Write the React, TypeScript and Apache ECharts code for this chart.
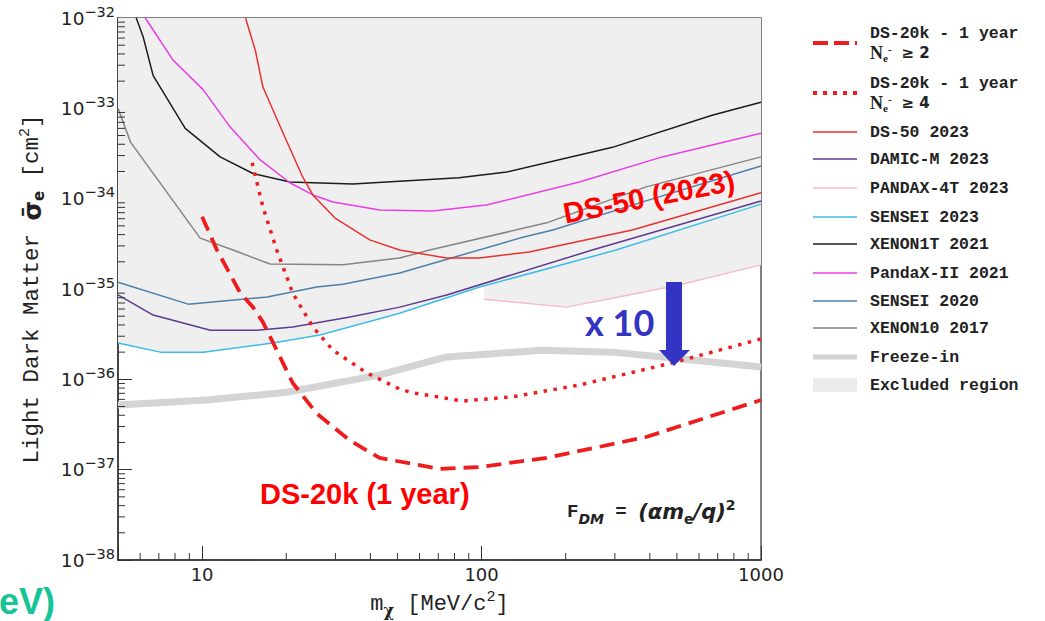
import React, { useEffect, useRef } from 'react';
import * as echarts from 'echarts';

// ---------- data (mass in MeV/c^2, cross-section in cm^2) ----------
const xTickLabels = ['10', '100', '1000'];
const yTickExponents = [-38, -37, -36, -35, -34, -33, -32];

const ds20kNe2: number[][] = [
  [10, 6.3e-35], [11.3, 2.7e-35], [13.7, 9.0e-36], [15.2, 6.3e-36], [16.5, 4.3e-36], [18.5, 2.1e-36],
  [21.1, 9.1e-37], [25.7, 4.2e-37], [33.8, 2.1e-37], [43.2, 1.35e-37], [70.8, 1.02e-37],
  [98.4, 1.07e-37], [171, 1.35e-37], [388, 2.3e-37], [1000, 5.9e-37],
];
const ds20kNe4: number[][] = [
  [15.1, 2.5e-34], [16.5, 8.1e-35], [18.5, 2.7e-35], [21.1, 9.0e-36], [24.9, 3.8e-36], [29.4, 2.1e-36],
  [38.8, 1.18e-36], [50.9, 7.8e-37], [56.8, 7.1e-37], [85.5, 5.75e-37], [129, 6.4e-37],
  [224, 8.65e-37], [481, 1.52e-36], [1000, 2.8e-36],
];
const ds50_2023: number[][] = [
  [14.3, 1e-32], [15.5, 4.4e-33], [16.5, 1.72e-33], [19.5, 5.3e-34], [22.9, 1.74e-34], [24.9, 1.1e-34],
  [29.9, 6.1e-35], [39.8, 3.5e-35], [50.9, 2.7e-35], [75, 2.2e-35], [98, 2.2e-35], [148, 2.57e-35],
  [346, 4.5e-35], [1000, 1.16e-34],
];
const damicM2023: number[][] = [
  [5, 8.6e-36], [6.68, 5.15e-36], [10.7, 3.5e-36], [15.7, 3.5e-36], [21.1, 3.8e-36], [33.8, 4.9e-36],
  [50.9, 6.3e-36], [75, 8.6e-36], [249, 2.7e-35], [1000, 9.4e-35],
];
const pandax4t2023: number[][] = [
  [102, 7.7e-36], [201, 6.3e-36], [294, 7.9e-36], [509, 1.11e-35], [1000, 1.85e-35],
];
const sensei2023: number[][] = [
  [5, 2.52e-36], [7.08, 2.0e-36], [10.1, 2.0e-36], [17.9, 2.52e-36], [26.4, 3.1e-36], [50.9, 5.4e-36],
  [98.4, 1.05e-35], [303, 2.7e-35], [1000, 8.7e-35],
];
const xenon1t2021: number[][] = [
  [5.81, 1e-32], [6.15, 6.2e-33], [6.68, 2.3e-33], [8.7, 6.0e-34], [11.6, 2.9e-34], [15.2, 1.9e-34],
  [20.6, 1.53e-34], [34.6, 1.45e-34], [83, 1.7e-34], [123, 1.97e-34], [294, 3.7e-34], [668, 8.4e-34],
  [1000, 1.17e-33],
];
const pandax2_2021: number[][] = [
  [6.26, 1e-32], [7.88, 3.4e-33], [10.1, 1.6e-33], [12.6, 6.2e-34], [16.1, 2.7e-34], [20.6, 1.5e-34],
  [24.9, 1.1e-34], [29.4, 9.2e-35], [43.2, 7.5e-35], [66.8, 7.3e-35], [104, 8.5e-35], [224, 1.53e-34],
  [443, 2.9e-34], [1000, 5.3e-34],
];
const sensei2020: number[][] = [
  [5, 1.19e-35], [8.91, 6.8e-36], [10.9, 7.2e-36], [17.1, 8.15e-36], [25.7, 1.05e-35], [31.9, 1.13e-35],
  [50.9, 1.5e-35], [137, 3.66e-35], [180, 4.5e-35], [398, 9.7e-35], [1000, 2.3e-34],
];
const xenon10_2017: number[][] = [
  [5, 1.0e-33], [5.55, 4.2e-34], [9.84, 3.66e-35], [12.9, 2.7e-35], [17.5, 1.89e-35], [31.9, 1.85e-35],
  [50.9, 2.2e-35], [65.2, 2.7e-35], [171, 5.4e-35], [388, 1.35e-34], [1000, 2.9e-34],
];
const freezeIn: number[][] = [
  [5, 5.2e-37], [10.4, 5.9e-37], [20.1, 7.2e-37], [43.2, 1.12e-36], [75, 1.77e-36], [165, 2.1e-36],
  [294, 2.0e-36], [481, 1.72e-36], [1000, 1.37e-36],
];
const excludedBoundary: number[][] = [
  [5, 2.52e-36], [7.08, 2.0e-36], [10.1, 2.0e-36], [17.9, 2.52e-36], [26.4, 3.1e-36], [50.9, 5.4e-36],
  [98.4, 1.05e-35], [102, 1.1e-35], [102, 7.7e-36], [201, 6.3e-36], [294, 7.9e-36], [509, 1.11e-35],
  [1000, 1.85e-35],
];

// ---------- helpers ----------
const Y_UNIT = 1e-38; // plot sigma in units of 1e-38 cm^2 (log axis precision)
const scaleY = (d: number[][]) => d.map(([m, s]) => [m, s / Y_UNIT]);

const X_MIN = 5, X_MAX = 1000;
const xMinorTicks: number[] = [];
[1, 10, 100].forEach((d) => { for (let k = 2; k <= 9; k++) { const v = k * d; if (v > X_MIN && v < X_MAX) xMinorTicks.push(v); } });
const yMinorTicks: number[] = [];
for (let e = 0; e < 6; e++) for (let k = 2; k <= 9; k++) yMinorTicks.push(k * Math.pow(10, e));

const RED = '#ee1c1c';
const lineSeries = (name: string, data: number[][], color: string, width: number, extra: any = {}) => ({
  type: 'line', name, data: scaleY(data), showSymbol: false, symbol: 'none', smooth: false,
  lineStyle: { color, width, ...extra }, z: 3,
});

const legendItems = [
  { lines: ['DS-20k - 1 year', '{n|N}{sub|e}{sup|-} {g|≥ 2}'], color: RED, width: 4, dash: [15, 6], y: 43 },
  { lines: ['DS-20k - 1 year', '{n|N}{sub|e}{sup|-} {g|≥ 4}'], color: RED, width: 4, dash: [4, 6], y: 93 },
  { lines: ['DS-50 2023'], color: '#e8322e', width: 1.5, y: 132 },
  { lines: ['DAMIC-M 2023'], color: '#5e3a8e', width: 1.5, y: 159 },
  { lines: ['PANDAX-4T 2023'], color: '#f6bccb', width: 1.5, y: 188 },
  { lines: ['SENSEI 2023'], color: '#3dbde6', width: 1.5, y: 217 },
  { lines: ['XENON1T 2021'], color: '#1c1c1c', width: 1.5, y: 244 },
  { lines: ['PandaX-II 2021'], color: '#e83ee6', width: 1.5, y: 273 },
  { lines: ['SENSEI 2020'], color: '#4b7fae', width: 1.5, y: 301 },
  { lines: ['XENON10 2017'], color: '#858585', width: 1.5, y: 328 },
  { lines: ['Freeze-in'], color: '#d4d4d4', width: 5, y: 357 },
  { lines: ['Excluded region'], color: '#ececec', rect: true, y: 385 },
];

const legendRich = {
  n: { fontFamily: 'Liberation Serif', fontWeight: 'bold', fontSize: 18, lineHeight: 20 },
  sub: { fontFamily: 'Liberation Serif', fontWeight: 'bold', fontSize: 11, lineHeight: 10, verticalAlign: 'bottom' },
  sup: { fontFamily: 'Liberation Serif', fontWeight: 'bold', fontSize: 11, lineHeight: 10, verticalAlign: 'top' },
  g: { fontFamily: 'DejaVu Sans', fontWeight: 'bold', fontSize: 15, lineHeight: 20 },
};

const buildLegend = () => {
  const els: any[] = [];
  legendItems.forEach((it: any) => {
    if (it.rect) {
      els.push({ type: 'rect', shape: { x: 813, y: it.y - 7, width: 44, height: 14 }, style: { fill: it.color } });
    } else {
      els.push({
        type: 'line', shape: { x1: 813, y1: it.y, x2: 857, y2: it.y },
        style: { stroke: it.color, lineWidth: it.width, lineDash: it.dash || null },
      });
    }
    const n = it.lines.length;
    it.lines.forEach((t: string, i: number) => {
      els.push({
        type: 'text', x: 870, y: it.y + (i - (n - 1) / 2) * 20,
        style: {
          text: t, fill: '#222', fontFamily: 'Liberation Mono', fontWeight: 'bold', fontSize: 16.5,
          verticalAlign: 'middle', align: 'left', rich: legendRich,
        },
      });
    });
  });
  return els;
};

const option: any = {
  animation: false,
  backgroundColor: '#ffffff',
  grid: {
    left: 118, top: 18, width: 643, height: 542, show: true, borderColor: '#555', borderWidth: 1.5,
    backgroundColor: 'transparent', containLabel: false, outerBoundsMode: 'none',
  },
  xAxis: {
    type: 'log', logBase: 10, min: X_MIN, max: X_MAX,
    axisLine: { show: true, lineStyle: { color: '#333', width: 1.5 } },
    axisTick: { show: true, inside: true, length: 14, lineStyle: { color: '#333', width: 1 } },
    minorTick: { show: false }, splitLine: { show: false },
    axisLabel: {
      margin: 5, color: '#222', fontFamily: 'DejaVu Sans', fontSize: 18,
      formatter: (v: number) => { const s = String(Math.round(v)); return xTickLabels.includes(s) && Math.abs(v - Math.round(v)) < 1e-6 ? s : ''; },
    },
    name: 'm{sub|χ} [MeV/c{sup|2}]', nameLocation: 'middle', nameGap: 30,
    nameTextStyle: {
      fontFamily: 'Liberation Mono', fontSize: 22, color: '#222', lineHeight: 28,
      rich: {
        sub: { fontFamily: 'DejaVu Serif', fontWeight: 'bold', fontSize: 16, lineHeight: 16, verticalAlign: 'bottom', color: '#222' },
        sup: { fontFamily: 'Liberation Mono', fontSize: 15, lineHeight: 12, verticalAlign: 'top', color: '#222' },
      },
    },
  },
  yAxis: {
    type: 'log', logBase: 10, min: 1, max: 1e6,
    axisLine: { show: true, lineStyle: { color: '#333', width: 1.5 } },
    axisTick: { show: true, inside: true, length: 14, lineStyle: { color: '#333', width: 1 } },
    minorTick: { show: false }, splitLine: { show: false },
    axisLabel: {
      margin: 3,
      formatter: (v: number) => {
        const e = Math.round(Math.log10(v)) + Math.round(Math.log10(Y_UNIT));
        if (!yTickExponents.includes(e)) return '';
        return '{b|10}{s|−' + Math.abs(e) + '}';
      },
      rich: {
        b: { fontFamily: 'DejaVu Sans', fontSize: 18.5, lineHeight: 28, color: '#222' },
        s: { fontFamily: 'DejaVu Sans', fontSize: 14.5, lineHeight: 14, verticalAlign: 'top', color: '#222' },
      },
    },
    name: 'Light Dark Matter {sig|σ̄}{sub|e} [cm{sup|2}]', nameLocation: 'middle', nameGap: 72,
    nameTextStyle: {
      fontFamily: 'Liberation Mono', fontSize: 22.5, color: '#222', lineHeight: 28,
      rich: {
        sig: { fontFamily: 'DejaVu Sans', fontWeight: 'bold', fontSize: 25, lineHeight: 28, color: '#222' },
        sub: { fontFamily: 'DejaVu Sans', fontWeight: 'bold', fontSize: 15, lineHeight: 16, verticalAlign: 'bottom', color: '#222' },
        sup: { fontFamily: 'Liberation Mono', fontSize: 15, lineHeight: 12, verticalAlign: 'top', color: '#222' },
      },
    },
  },
  series: [
    {
      type: 'line', name: 'Excluded region', data: scaleY(excludedBoundary), showSymbol: false, symbol: 'none',
      lineStyle: { width: 0, opacity: 0 }, areaStyle: { color: '#efefef', opacity: 1, origin: 'end' }, z: 1, silent: true,
    },
    lineSeries('Freeze-in', freezeIn, '#d4d4d4', 7),
    lineSeries('PANDAX-4T 2023', pandax4t2023, '#f6bccb', 1.5),
    lineSeries('XENON10 2017', xenon10_2017, '#858585', 1.5),
    lineSeries('SENSEI 2020', sensei2020, '#4b7fae', 1.5),
    lineSeries('SENSEI 2023', sensei2023, '#3dbde6', 1.5),
    lineSeries('DAMIC-M 2023', damicM2023, '#5e3a8e', 1.5),
    lineSeries('XENON1T 2021', xenon1t2021, '#1c1c1c', 1.5),
    lineSeries('PandaX-II 2021', pandax2_2021, '#e83ee6', 1.5),
    lineSeries('DS-50 2023', ds50_2023, '#e8322e', 1.5),
    { ...lineSeries('DS-20k - 1 year Ne- ≥ 4', ds20kNe4, RED, 3.5, { type: [3.5, 6.5], cap: 'butt' }), z: 4 },
    { ...lineSeries('DS-20k - 1 year Ne- ≥ 2', ds20kNe2, RED, 3.8, { type: [15, 8], cap: 'butt' }), z: 4 },
    {
      type: 'custom', name: 'x minor ticks', silent: true, clip: false, z: 5,
      data: xMinorTicks.map((v) => [v, 1]),
      encode: { x: 0, y: 1 },
      renderItem: (_p: any, api: any) => {
        const p = api.coord([api.value(0), 1]);
        return { type: 'line', shape: { x1: p[0], y1: p[1], x2: p[0], y2: p[1] - 7 }, style: { stroke: '#333', lineWidth: 1 } };
      },
    },
    {
      type: 'custom', name: 'y minor ticks', silent: true, clip: false, z: 5,
      data: yMinorTicks.map((v) => [X_MIN, v]),
      encode: { x: 0, y: 1 },
      renderItem: (_p: any, api: any) => {
        const p = api.coord([X_MIN, api.value(1)]);
        return { type: 'line', shape: { x1: p[0], y1: p[1], x2: p[0] + 7, y2: p[1] }, style: { stroke: '#333', lineWidth: 1 } };
      },
    },
  ],
  graphic: [
    ...buildLegend(),
    {
      type: 'text', x: 649, y: 197, rotation: (11 * Math.PI) / 180, z: 10,
      style: { text: 'DS-50 (2023)', fill: '#ff0000', fontFamily: 'Liberation Sans', fontWeight: 'bold', fontSize: 29, align: 'center', verticalAlign: 'middle' },
    },
    {
      type: 'text', x: 260, y: 494, z: 10,
      style: { text: 'DS-20k (1 year)', fill: '#ff0000', fontFamily: 'Liberation Sans', fontWeight: 'bold', fontSize: 29, align: 'left', verticalAlign: 'middle' },
    },
    {
      type: 'text', x: 585, y: 322, z: 10,
      style: { text: 'x 10', fill: '#3434c4', fontFamily: 'Lato', fontWeight: 'bold', fontSize: 36, align: 'left', verticalAlign: 'middle' },
    },
    { type: 'rect', z: 10, shape: { x: 666, y: 282, width: 16, height: 70 }, style: { fill: '#3434c4' } },
    { type: 'polygon', z: 10, shape: { points: [[659, 350], [690, 350], [674, 366]] }, style: { fill: '#3434c4' } },
    {
      type: 'text', x: 567, y: 512, z: 10,
      style: {
        text: 'F{dm|DM} = {f|(αm}{e|e}{f|/q)}{p|2}', fill: '#222', fontFamily: 'Liberation Mono', fontWeight: 'bold', fontSize: 19,
        align: 'left', verticalAlign: 'middle',
        rich: {
          dm: { fontFamily: 'DejaVu Sans', fontStyle: 'italic', fontWeight: 'bold', fontSize: 14, lineHeight: 16, verticalAlign: 'bottom' },
          f: { fontFamily: 'DejaVu Sans', fontStyle: 'italic', fontWeight: 'bold', fontSize: 21, lineHeight: 28 },
          e: { fontFamily: 'DejaVu Sans', fontWeight: 'bold', fontSize: 14, lineHeight: 16, verticalAlign: 'bottom' },
          p: { fontFamily: 'DejaVu Sans', fontWeight: 'bold', fontSize: 14, lineHeight: 12, verticalAlign: 'top' },
        },
      },
    },
    {
      type: 'text', x: -1, y: 601, z: 10,
      style: { text: 'eV)', fill: '#17c497', fontFamily: 'Liberation Sans', fontWeight: 'bold', fontSize: 36, align: 'left', verticalAlign: 'middle' },
    },
  ],
};

export default function App() {
  const ref = useRef<HTMLDivElement>(null);
  useEffect(() => {
    if (!ref.current) return;
    const chart = echarts.init(ref.current, null, { renderer: 'svg', width: 1045, height: 621 });
    chart.setOption(option);
    return () => chart.dispose();
  }, []);
  return (
    <div
      ref={ref}
      style={{ position: 'absolute', left: 0, top: 0, width: 1045, height: 621, background: '#ffffff' }}
    />
  );
}
